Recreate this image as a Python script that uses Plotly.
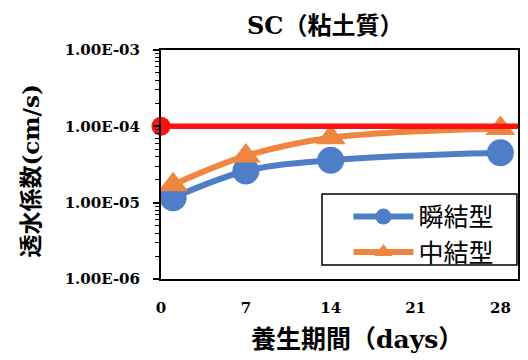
import plotly.graph_objects as go

# ---- data ----
days = [1, 7, 14, 28]
shunketsu = [1.16e-5, 2.6e-5, 3.6e-5, 4.5e-5]      # 瞬結型
chuketsu = [1.72e-5, 4.1e-5, 7.1e-5, 9.4e-5]       # 中結型
ref_x = [0, 30]
ref_y = [1e-4, 1e-4]                               # 基準値
x_ticks = [0, 7, 14, 21, 28]
y_ticks = [1e-6, 1e-5, 1e-4, 1e-3]
y_ticktext = ["1.00E-06", "1.00E-05", "1.00E-04", "1.00E-03"]
minor_mult = [2, 3, 4, 5, 6, 7, 8, 9]

BLUE = "#4F7EC8"
ORANGE = "#EF8640"
RED = "#FF1010"
SERIF = "DejaVu Serif, Noto Sans CJK JP"
SANS = "Noto Sans CJK JP"

fig = go.Figure()
fig.add_trace(go.Scatter(
    x=days, y=shunketsu, name="瞬結型", mode="lines+markers",
    line=dict(color=BLUE, width=6, shape="spline", smoothing=1.0),
    marker=dict(symbol="circle", size=27, color=BLUE),
))
fig.add_trace(go.Scatter(
    x=days, y=chuketsu, name="中結型", mode="lines+markers",
    line=dict(color=ORANGE, width=6, shape="spline", smoothing=1.0),
    marker=dict(symbol="triangle-up", size=26, color=ORANGE),
))
fig.add_trace(go.Scatter(
    x=ref_x, y=ref_y, name="基準値", mode="lines+markers", showlegend=False,
    line=dict(color=RED, width=5.5),
    marker=dict(symbol="circle", size=19, color=RED),
    cliponaxis=False,
))

minor_vals = [m * t for t in y_ticks[:-1] for m in minor_mult]

fig.update_layout(
    width=528, height=360,
    margin=dict(l=161, r=8, t=50, b=81),
    paper_bgcolor="white", plot_bgcolor="white",
    showlegend=True,
    legend=dict(
        x=0.525, y=0.372, xanchor="left", yanchor="top",
        bgcolor="rgba(0,0,0,0)", borderwidth=0,
        font=dict(family=SANS, size=25, color="black"),
        itemwidth=60,
    ),
    shapes=[
        dict(type="rect", xref="paper", yref="paper",
             x0=0.451, x1=0.997, y0=0.061, y1=0.371,
             line=dict(color="black", width=1.5), fillcolor="white",
             layer="above"),
    ],
    xaxis=dict(
        range=[0, 29.45], tickvals=x_ticks, ticks="",
        showgrid=False, zeroline=False,
        showline=True, linecolor="black", linewidth=2, mirror=True,
        tickfont=dict(family=SERIF, size=15, color="black", weight="bold"),
        ticklabelstandoff=14,
    ),
    yaxis=dict(
        type="log", range=[-6, -3],
        tickvals=y_ticks, ticktext=y_ticktext,
        ticks="outside", ticklen=6, tickwidth=1.5, tickcolor="black",
        minor=dict(tickvals=minor_vals, ticks="outside", ticklen=4,
                   tickcolor="black", tickwidth=1.2, showgrid=False),
        showgrid=False, zeroline=False,
        showline=True, linecolor="black", linewidth=2, mirror=True,
        tickfont=dict(family=SERIF, size=15, color="black", weight="bold"),
        ticklabelstandoff=10,
    ),
    annotations=[
        dict(text="SC（粘土質）", xref="paper", yref="paper",
             x=0.46, y=1.109, xanchor="center", yanchor="middle",
             showarrow=False,
             font=dict(family=SERIF, size=24, color="black", weight="bold")),
        dict(text="透水係数(cm/s)", xref="paper", yref="paper",
             x=-0.365, y=0.472, xanchor="center", yanchor="middle",
             textangle=-90, showarrow=False,
             font=dict(family=SERIF, size=23, color="black", weight="bold")),
        dict(text="養生期間（days）", xref="paper", yref="paper",
             x=0.549, y=-0.266, xanchor="center", yanchor="middle",
             showarrow=False,
             font=dict(family=SERIF, size=25, color="black", weight="bold")),
    ],
)

fig.write_html("out.html", config={"displayModeBar": False},
               post_script="document.body.style.margin='0';document.body.style.overflow='hidden';")
